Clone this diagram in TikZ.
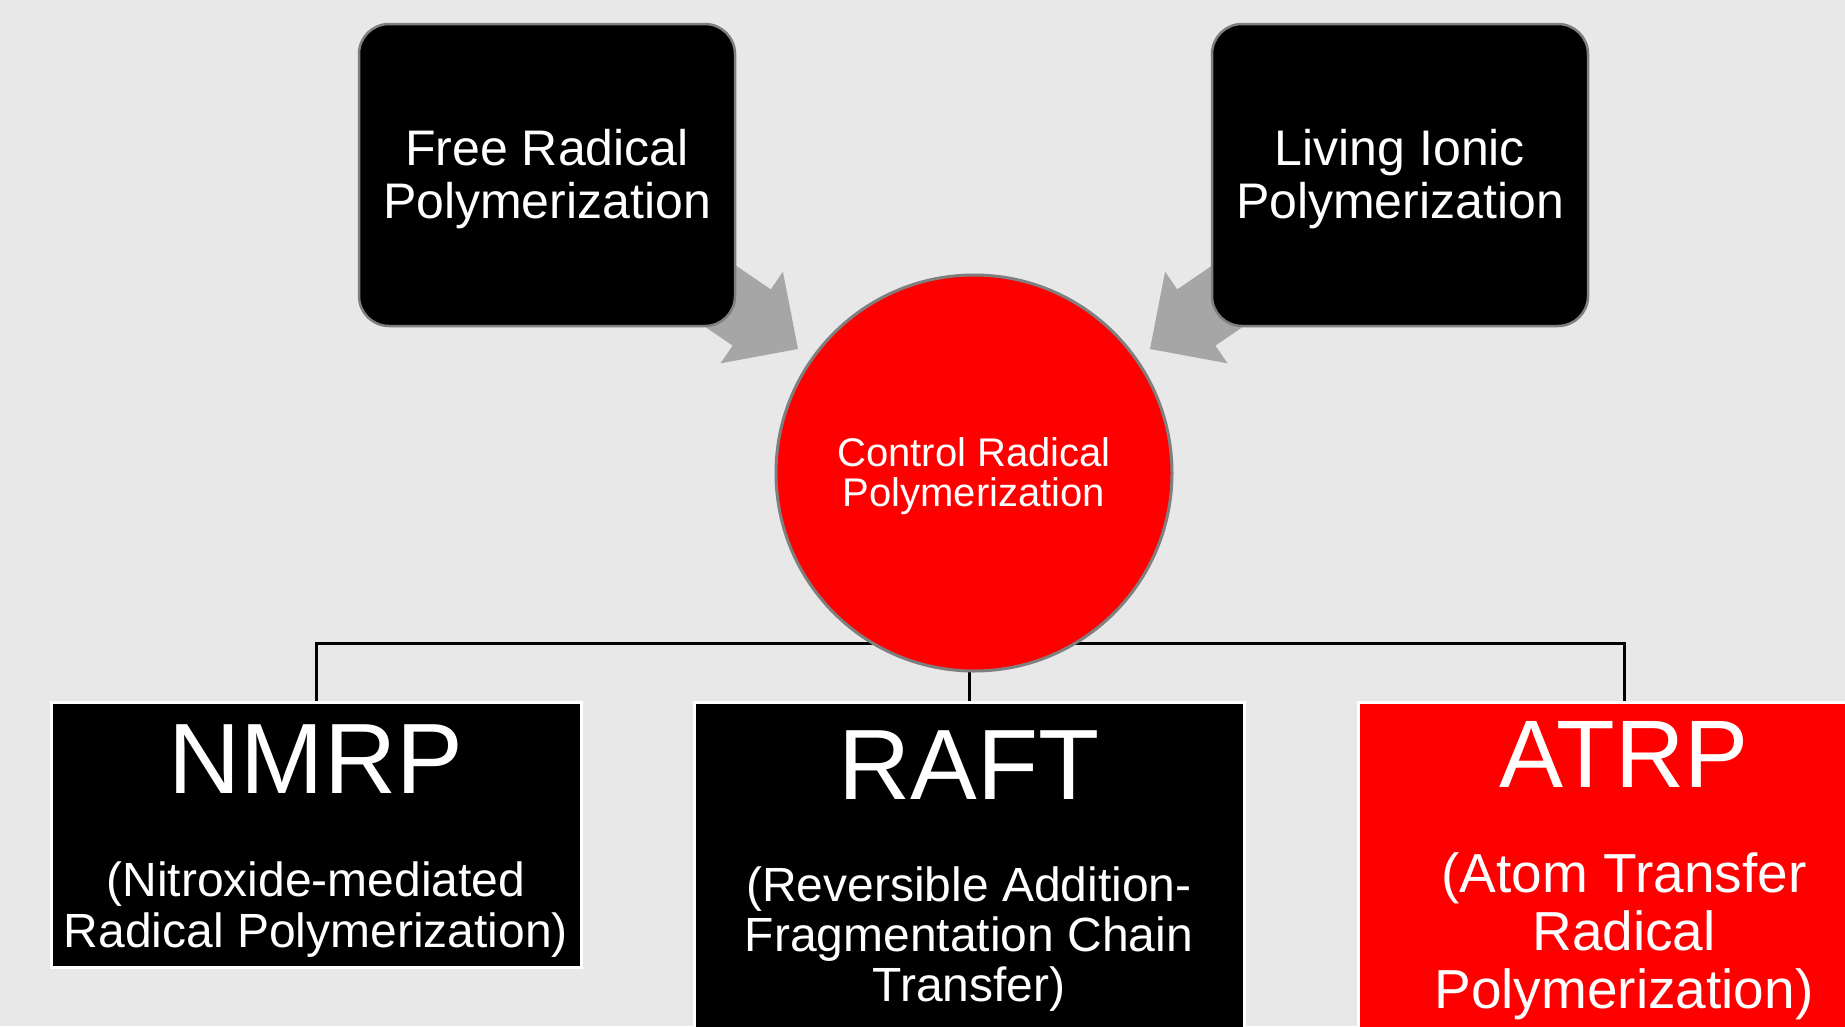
\documentclass[tikz,border=0pt]{standalone}
\usepackage{fontspec}
\setmainfont{Liberation Sans}
\usetikzlibrary{calc}
\pgfdeclarelayer{bg}
\pgfdeclarelayer{back}
\pgfsetlayers{bg,back,main}
\definecolor{bgcol}{HTML}{E8E8E8}
\definecolor{arrowgray}{HTML}{A6A6A6}
\definecolor{bordergray}{HTML}{7F7F7F}
\definecolor{brightred}{HTML}{FF0000}
\begin{document}
\begin{tikzpicture}[x=1pt,y=-1pt,
  topbox/.style={draw=bordergray, line width=2.5pt, fill=black, rounded corners=30pt,
    minimum width=376pt, minimum height=302pt, text=white, align=center,
    font=\fontsize{50}{53}\selectfont, inner sep=0pt, text height=98pt},
  hubcircle/.style={circle, draw=bordergray, line width=3pt, fill=brightred,
    minimum size=396pt, inner sep=0pt, text=white, align=center,
    font=\fontsize{40}{40}\selectfont, text height=75pt},
  lowbox/.style={draw=white, line width=3pt, inner sep=0pt},
  titletext/.style={text=white, inner sep=0pt, font=\fontsize{100}{100}\selectfont},
  subtext/.style={text=white, inner sep=0pt, align=center},
  conn/.style={draw=black, line width=3pt},
  blockarrow/.style={fill=arrowgray}
]
\useasboundingbox (0,0) rectangle (1845,1026);
\clip (0,0) rectangle (1845,1026);
\begin{pgfonlayer}{bg}
  \fill[bgcol] (0,0) rectangle (1845,1026);
\end{pgfonlayer}

% top boxes
\node[topbox] (frp) at (547,175) {Free Radical\\Polymerization};
\node[topbox] (lip) at (1400,175) {Living Ionic\\Polymerization};

% central circle
\node[hubcircle] (crp) at (974,473) {Control Radical\\Polymerization};

% bottom boxes
\node[lowbox, fill=black, minimum width=530pt, minimum height=265pt] (nmrp) at (316,834.5) {};
\node[lowbox, fill=black, minimum width=550pt, minimum height=340pt] (raft) at (969,872) {};
\node[lowbox, fill=brightred, minimum width=532pt, minimum height=340pt] (atrp) at (1624,872) {};

% bottom texts
\node[titletext] (nmrpT) at (316,759) {NMRP};
\node[subtext, font=\fontsize{48}{51}\selectfont] (nmrpS) at (316,910) {(Nitroxide-mediated\\Radical Polymerization)};
\node[titletext] (raftT) at (969,765) {RAFT};
\node[subtext, font=\fontsize{48}{50}\selectfont] (raftS) at (969,939) {(Reversible Addition-\\Fragmentation Chain\\Transfer)};
\node[titletext, font=\fontsize{96}{96}\selectfont] (atrpT) at (1624,754) {ATRP};
\node[subtext, font=\fontsize{55}{58}\selectfont] (atrpS) at (1624,936) {(Atom Transfer\\Radical\\Polymerization)};

\path (raft.north) ++(0,-57) coordinate (hub);

\begin{pgfonlayer}{back}
  % hierarchy connectors
  \draw[conn] (crp.center) -- (hub);
  \draw[conn] (nmrp.north) |- (hub) -| (atrp.north);
  \draw[conn] (hub) -- (raft.north);
  % block arrows
  \fill[blockarrow] (692.4,235.9) -- (770.8,289.4) -- (782.9,271.7) -- (798,349)
     -- (720.5,363.3) -- (732.6,345.6) -- (654.2,292.1) -- cycle;
  \fill[blockarrow] (1255.6,235.9) -- (1177.2,289.4) -- (1165.1,271.7) -- (1150,349)
     -- (1227.5,363.3) -- (1215.4,345.6) -- (1293.8,292.1) -- cycle;
\end{pgfonlayer}
\end{tikzpicture}
\end{document}
